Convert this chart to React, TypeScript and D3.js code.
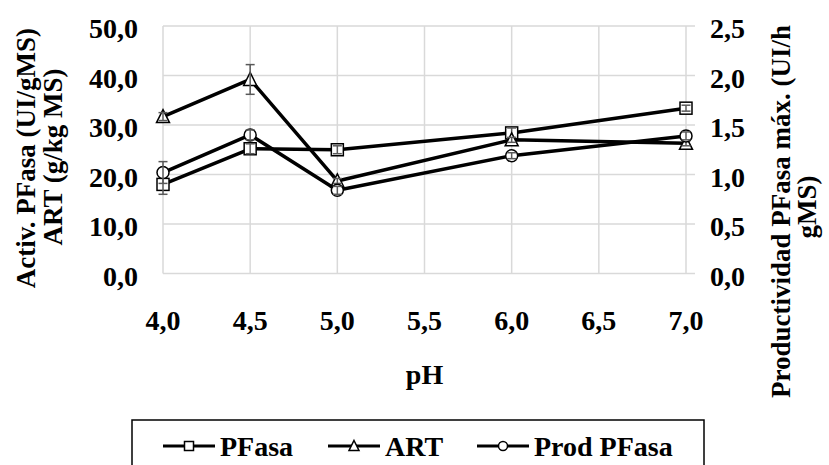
import React from "react";
import * as d3 from "d3";

const phValues = [4.0, 4.5, 5.0, 6.0, 7.0];
const pfasa = [18.0, 25.2, 25.0, 28.4, 33.4];
const pfasaErr = [2.0, 1.0, 0.8, 1.0, 0.6];
const art = [31.7, 39.2, 18.7, 27.0, 26.3];
const artErr = [0.8, 3.0, 0.5, 0.5, 0.5];
const prod = [1.02, 1.4, 0.84, 1.19, 1.39];
const prodErr = [0.11, 0.05, 0.04, 0.03, 0.04];

const xTicks = [4.0, 4.5, 5.0, 5.5, 6.0, 6.5, 7.0];
const yLeftTicks = [0, 10, 20, 30, 40, 50];
const yRightTicks = [0, 0.5, 1.0, 1.5, 2.0, 2.5];

const W = 829;
const H = 465;
const L = 163, R = 686, T = 26, B = 273.5;
const FONT = "Liberation Serif";
const GRID = "#d9d9d9";
const ERR = "#595959";

const fmt = (v: number) => v.toFixed(1).replace(".", ",");

function Marker({ type, x, y, s }: { type: string; x: number; y: number; s: number }) {
  const h = s / 2;
  if (type === "square")
    return <rect x={x - h} y={y - h} width={s} height={s} fill="white" stroke="black" strokeWidth={1.5} />;
  if (type === "triangle")
    return (
      <path
        d={`M${x},${y - h - 1}L${x + h + 0.5},${y + h}L${x - h - 0.5},${y + h}Z`}
        fill="white"
        stroke="black"
        strokeWidth={1.5}
      />
    );
  return <circle cx={x} cy={y} r={h} fill="white" stroke="black" strokeWidth={1.5} />;
}

export default function App() {
  const x = d3.scaleLinear().domain([4, 7]).range([L, R]);
  const yL = d3.scaleLinear().domain([0, 50]).range([B, T]);
  const yR = d3.scaleLinear().domain([0, 2.5]).range([B, T]);

  const series = [
    { name: "PFasa", vals: pfasa, err: pfasaErr, y: yL, marker: "square" },
    { name: "ART", vals: art, err: artErr, y: yL, marker: "triangle" },
    { name: "Prod PFasa", vals: prod, err: prodErr, y: yR, marker: "circle" },
  ];

  const line = (vals: number[], y: d3.ScaleLinear<number, number>) =>
    d3
      .line<number>()
      .x((_, i) => x(phValues[i]))
      .y((d) => y(d))(vals) as string;

  const label = (content: string, tx: number, ty: number, anchor: string, key: string, size = 28) => (
    <text
      key={key}
      x={tx}
      y={ty}
      textAnchor={anchor}
      fontFamily={FONT}
      fontWeight="bold"
      fontSize={size}
      fill="black"
    >
      {content}
    </text>
  );

  const legendItems = [
    { name: "PFasa", marker: "square", x0: 163 },
    { name: "ART", marker: "triangle", x0: 328 },
    { name: "Prod PFasa", marker: "circle", x0: 477 },
  ];

  return (
    <svg width={W} height={H} style={{ position: "absolute", left: 0, top: 0, background: "white" }}>
      <rect x={0} y={0} width={W} height={H} fill="white" />
      {xTicks.map((t) => (
        <line key={"vx" + t} x1={x(t)} x2={x(t)} y1={T} y2={B} stroke={GRID} strokeWidth={1.5} />
      ))}
      {yLeftTicks.map((t) => (
        <line key={"hy" + t} x1={L} x2={R + 9} y1={yL(t)} y2={yL(t)} stroke={GRID} strokeWidth={1.5} />
      ))}

      {series.map((s) => (
        <g key={s.name}>
          <path d={line(s.vals, s.y)} fill="none" stroke="black" strokeWidth={3.5} strokeLinejoin="round" />
          {s.vals.map((v, i) => {
            const cx = x(phValues[i]);
            const lo = s.y(v - s.err[i]);
            const hi = s.y(v + s.err[i]);
            return (
              <g key={i}>
                <Marker type={s.marker} x={cx} y={s.y(v)} s={12} />
                <line x1={cx} x2={cx} y1={lo} y2={hi} stroke={ERR} strokeWidth={1.5} />
                <line x1={cx - 4.5} x2={cx + 4.5} y1={lo} y2={lo} stroke={ERR} strokeWidth={1.5} />
                <line x1={cx - 4.5} x2={cx + 4.5} y1={hi} y2={hi} stroke={ERR} strokeWidth={1.5} />
              </g>
            );
          })}
        </g>
      ))}

      {yLeftTicks.map((t) => label(fmt(t), 138, yL(t) + 12, "end", "yl" + t))}
      {yRightTicks.map((t) => label(fmt(t), 710, yR(t) + 12, "start", "yr" + t))}
      {xTicks.map((t) => label(fmt(t), x(t), 330, "middle", "xt" + t))}

      {label("pH", (L + R) / 2, 384, "middle", "xtitle", 28)}
      <g fontFamily={FONT} fontWeight="bold" fontSize={27} fill="black">
        <text transform={`translate(35,28) rotate(-90)`} textAnchor="end">
          Activ. PFasa (UI/gMS)
        </text>
        <text transform={`translate(62,157) rotate(-90)`} textAnchor="middle">
          ART (g/kg MS)
        </text>
        <text transform={`translate(790,25) rotate(-90)`} textAnchor="end">
          Productividad PFasa máx. (UI/h
        </text>
        <text transform={`translate(816,207) rotate(-90)`} textAnchor="middle">
          gMS)
        </text>
      </g>

      <rect x={132} y={420} width={572} height={70} fill="white" stroke="black" strokeWidth={1.5} />
      {legendItems.map((it) => (
        <g key={it.name}>
          <line x1={it.x0} x2={it.x0 + 52} y1={446} y2={446} stroke="black" strokeWidth={3} />
          <Marker type={it.marker} x={it.x0 + 26} y={446} s={9} />
          <text x={it.x0 + 57} y={456} fontFamily={FONT} fontWeight="bold" fontSize={28} fill="black">
            {it.name}
          </text>
        </g>
      ))}
    </svg>
  );
}
